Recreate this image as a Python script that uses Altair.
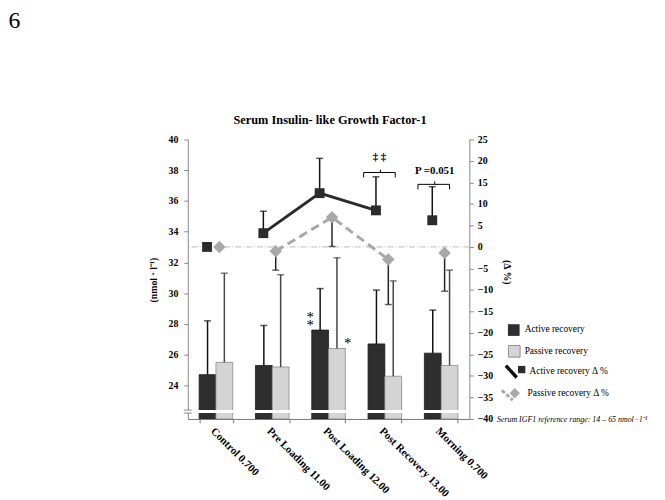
import altair as alt
import pandas as pd

categories = ["Control 0.700", "Pre Loading 11.00", "Post Loading 12.00",
              "Post Recovery 13.00", "Morning 0.700"]
# Serum IGF-1 (nmol/l), left axis
active_mean = [24.7, 25.3, 27.6, 26.7, 26.1]
active_err = [28.2, 27.9, 30.3, 30.2, 28.9]
passive_mean = [25.5, 25.2, 26.4, 24.6, 25.3]
passive_err = [31.3, 31.2, 32.3, 30.8, 31.5]
# Delta % (right axis)
active_delta = [0.0, 3.2, 12.5, 8.5, 6.2]
active_delta_err = [None, 8.3, 20.6, 16.3, 14.0]
passive_delta = [0.0, -1.0, 6.9, -2.9, -1.4]
passive_delta_err = [None, -5.4, 0.1, -13.4, -10.3]
line_cats = categories[1:4]

FONT = "Liberation Serif"
W, H = 285, 283
LMIN, LMAX = 21.82, 40
RMIN, RMAX = -40, 25

bars_df = pd.DataFrame({
    "cat": categories * 2,
    "series": ["Active"] * 5 + ["Passive"] * 5,
    "mean": active_mean + passive_mean,
    "err": active_err + passive_err,
})
bars_df["base"] = LMIN

delta_df = pd.DataFrame({
    "cat": categories,
    "act": active_delta,
    "act_err": active_delta_err,
    "pas": passive_delta,
    "pas_err": passive_delta_err,
})


def X():
    return alt.X(
        "cat:N", sort=categories, title=None,
        scale=alt.Scale(paddingInner=0.4035, paddingOuter=0.2018),
        axis=alt.Axis(labelAngle=45, labelAlign="left", labelBaseline="top",
                      labelFont=FONT, labelFontSize=11, labelFontWeight="bold",
                      labelColor="black", labelPadding=2, tickBand="extent",
                      tickSize=4, tickColor="#777", domainColor="#777",
                      zindex=1, labelLimit=200, labelOverlap=False),
    )


left_axis = alt.Axis(
    orient="left", values=list(range(24, 41, 2)), title="(nmol · l⁻¹)",
    titleFont=FONT, titleFontSize=10, titleFontWeight="bold", titleAngle=-90,
    titleX=-35, titleY=142, titleAlign="center", titleBaseline="middle",
    titleColor="black",
    labelFont=FONT, labelFontSize=10, labelFontWeight="bold", labelColor="black",
    labelPadding=6, tickSize=4, tickColor="#888", domainColor="#888", grid=False,
)
right_axis = alt.Axis(
    orient="right", values=list(range(-40, 26, 5)), title="(Δ %)",
    titleFont=FONT, titleFontSize=10, titleFontWeight="bold", titleAngle=90,
    titleX=38, titleY=134, titleAlign="center", titleBaseline="middle",
    titleColor="black",
    labelFont=FONT, labelFontSize=10, labelFontWeight="bold", labelColor="black",
    labelPadding=4, tickSize=4, tickColor="#888", domainColor="#888", grid=False,
)


def YL(field):
    return alt.Y(field, scale=alt.Scale(domain=[LMIN, LMAX], nice=False, zero=False),
                 axis=left_axis)


def YR(field=None, datum=None):
    sc = alt.Scale(domain=[RMIN, RMAX], nice=False, zero=False)
    if datum is not None:
        return alt.Y(datum=datum, scale=sc, axis=right_axis)
    return alt.Y(field, scale=sc, axis=right_axis)


base_b = alt.Chart(bars_df)
bars = base_b.mark_bar(strokeWidth=0.8).encode(
    x=X(),
    xOffset=alt.XOffset("series:N", sort=["Active", "Passive"],
                        scale=alt.Scale(paddingInner=0, paddingOuter=0)),
    y=YL("mean:Q"),
    y2=alt.Y2("base:Q"),
    color=alt.Color("series:N", scale=alt.Scale(domain=["Active", "Passive"],
                    range=["#2e2e2e", "#d4d4d4"]), legend=None),
    stroke=alt.Stroke("series:N", scale=alt.Scale(domain=["Active", "Passive"],
                      range=["#1a1a1a", "#8a8a8a"]), legend=None),
)


def bar_err(series, off, col):
    b = base_b.transform_filter(alt.datum.series == series)
    r = b.mark_rule(xOffset=off, color=col, strokeWidth=1.5).encode(
        x=X(), y=YL("mean:Q"), y2=alt.Y2("err:Q"))
    t = b.mark_tick(xOffset=off, color=col, size=7, thickness=1.5).encode(
        x=X(), y=YL("err:Q"))
    return r + t


def txt(t, x, y, size=10, weight="normal", style="normal", align="center",
        baseline="middle", color="#000000", angle=0, **kw):
    return alt.Chart(pd.DataFrame({"t": [t]})).mark_text(
        font=FONT, fontSize=size, fontWeight=weight, fontStyle=style, align=align,
        baseline=baseline, fill=color, angle=angle, **kw
    ).encode(x=alt.value(x), y=alt.value(y), text="t:N")


def seg(x1, y1, x2, y2, color="black", w=1.0, dash=None):
    kw = dict(color=color, strokeWidth=w)
    if dash:
        kw["strokeDash"] = dash
    return alt.Chart(pd.DataFrame({"a": [0]})).mark_rule(**kw).encode(
        x=alt.value(x1), y=alt.value(y1), x2=alt.value(x2), y2=alt.value(y2))


stars = (txt("*\n*", 124, 185, size=15, baseline="alphabetic", lineBreak="\n",
             lineHeight=8)
         + txt("*", 162, 211, size=15, baseline="alphabetic"))

left = alt.layer(bars, bar_err("Active", -8.5, "#111"),
                 bar_err("Passive", 8.5, "#444"), stars)

base_d = alt.Chart(delta_df)
zero_rule = alt.Chart(pd.DataFrame({"a": [0]})).mark_rule(
    color="#aaa", strokeWidth=0.8, strokeDash=[6, 2, 1, 2]).encode(y=YR(datum=0))
line_d = base_d.transform_filter(alt.FieldOneOfPredicate(field="cat", oneOf=line_cats))
pas_line = line_d.mark_line(xOffset=3.5, color="#a8a8a8", strokeWidth=3,
                            strokeDash=[9, 5]).encode(x=X(), y=YR("pas:Q"))
act_line = line_d.mark_line(xOffset=-9, color="#2b2b2b", strokeWidth=3).encode(
    x=X(), y=YR("act:Q"))
act_err_d = base_d.transform_filter("isValid(datum.act_err)")
pas_err_d = base_d.transform_filter("isValid(datum.pas_err)")
act_err = (act_err_d.mark_rule(xOffset=-9, color="#111", strokeWidth=1.5).encode(
    x=X(), y=YR("act:Q"), y2=alt.Y2("act_err:Q"))
    + act_err_d.mark_tick(xOffset=-9, color="#111", size=7, thickness=1.5).encode(
    x=X(), y=YR("act_err:Q")))
pas_err = (pas_err_d.mark_rule(xOffset=3.5, color="#222", strokeWidth=1.5).encode(
    x=X(), y=YR("pas:Q"), y2=alt.Y2("pas_err:Q"))
    + pas_err_d.mark_tick(xOffset=3.5, color="#222", size=7, thickness=1.5).encode(
    x=X(), y=YR("pas_err:Q")))
squares = base_d.mark_point(shape="square", filled=True, size=100, color="#2b2b2b",
                            opacity=1, xOffset=-9).encode(x=X(), y=YR("act:Q"))
diamonds = base_d.mark_point(shape="diamond", filled=True, size=160, color="#a8a8a8",
                             opacity=1, xOffset=3.5).encode(x=X(), y=YR("pas:Q"))

right = alt.layer(zero_rule, pas_line, act_line, pas_err, act_err, squares, diamonds)

# axis break and annotations
brk = (seg(-2, 275.5, 283, 275.5, color="white", w=3)
       + seg(-4, 274, 4, 274, color="#888", w=1)
       + seg(-4, 277, 4, 277, color="#888", w=1))

annots = (
    txt("6", -175.5, -119.5, size=24)
    + txt("Serum Insulin- like Growth Factor-1", 144, -20, size=12.5, weight="bold")
    + txt("‡ ‡", 194, 18, size=11, weight="bold")
    + seg(178, 33.5, 210, 33.5) + seg(178, 33.5, 178, 38.5) + seg(210, 33.5, 210, 38.5)
    + seg(195, 30.5, 195, 33.5)
    + txt("P =0.051", 250, 32, size=11, weight="bold")
    + seg(233, 45.5, 265, 45.5) + seg(233, 45.5, 233, 50.5) + seg(265, 45.5, 265, 50.5)
    + seg(250, 42.5, 250, 45.5)
)

legend_pts = alt.Chart(pd.DataFrame({"a": [0]}))
legend = (
    legend_pts.mark_point(shape="square", filled=True, size=140, color="#2e2e2e",
                          opacity=1).encode(x=alt.value(330), y=alt.value(193))
    + txt("Active recovery", 341, 192, size=9.5, align="left")
    + legend_pts.mark_point(shape="square", filled=True, size=140, fill="#d4d4d4",
                            stroke="#777", strokeWidth=0.8, opacity=1).encode(
        x=alt.value(330.5), y=alt.value(214.5))
    + txt("Passive recovery", 341, 214, size=9.5, align="left")
    + seg(322, 229, 333, 241, color="#111", w=3.5)
    + legend_pts.mark_point(shape="square", filled=True, size=55, color="#2b2b2b",
                            opacity=1).encode(x=alt.value(338), y=alt.value(233))
    + txt("Active recovery Δ %", 346, 234, size=9.5, align="left")
    + seg(318, 254, 329, 264, color="#a8a8a8", w=3, dash=[4, 2])
    + legend_pts.mark_point(shape="diamond", filled=True, size=110, color="#a8a8a8",
                            opacity=1).encode(x=alt.value(331), y=alt.value(257))
    + txt("Passive recovery Δ %", 344, 257, size=9.5, align="left")
    + txt("Serum IGF1 reference range: 14 – 65 nmol · l⁻¹", 313, 284, size=8,
          style="italic", align="left")
)

chart = alt.layer(left, right, brk, annots, legend).resolve_scale(
    y="independent"
).properties(
    width=W, height=H,
    padding={"left": 182, "top": 130, "right": 190, "bottom": 78},
    autosize=alt.AutoSizeParams(type="none"),
).configure_view(stroke=None)

chart.save("out.html", embed_options={"renderer": "svg", "actions": False})
